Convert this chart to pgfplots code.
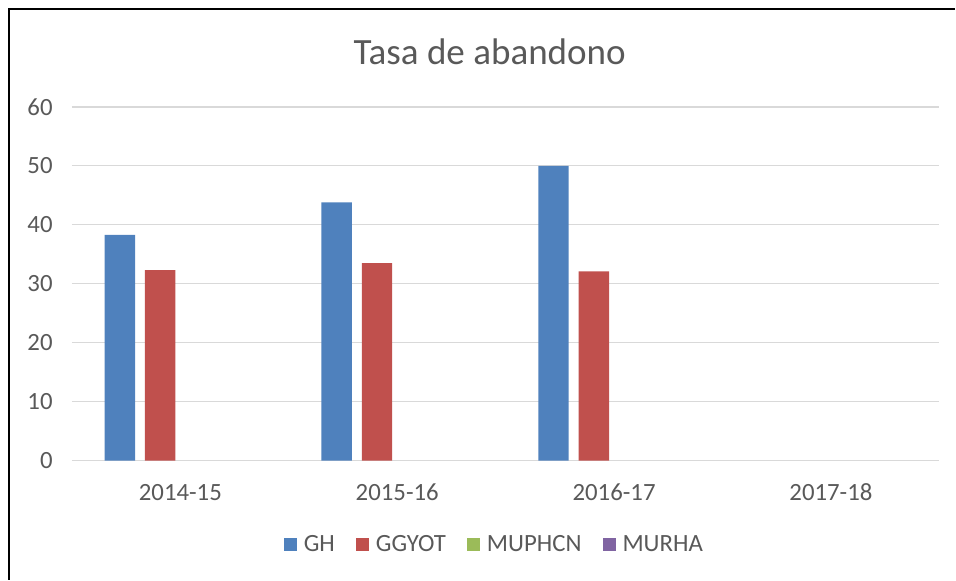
\documentclass[border=0pt]{standalone}
\usepackage{fontspec}
\setmainfont{Carlito}
\usepackage{pgfplots}
\pgfplotsset{compat=1.18}
\definecolor{cGH}{HTML}{4F81BD}
\definecolor{cGG}{HTML}{C0504D}
\definecolor{cMU}{HTML}{9BBB59}
\definecolor{cMR}{HTML}{8064A2}
\definecolor{txt}{HTML}{595959}
\definecolor{grd}{HTML}{D9D9D9}
\begin{document}
\begin{tikzpicture}
\path (0,0) rectangle (717pt,435pt);
\draw[black, line width=1pt] (6.75pt,0pt) -- (6.75pt,428.25pt) -- (717pt,428.25pt);
\node[text=txt, font=\fontsize{27.8}{32}\selectfont] at (367.5pt,396pt) {Tasa de abandono};
\begin{axis}[
  at={(54pt,89.25pt)}, anchor=south west,
  scale only axis, width=651pt, height=265.5pt,
  ybar=7.5pt, bar width=22.8pt,
  xmin=-0.5, xmax=3.5, ymin=0, ymax=60,
  ytick={0,10,...,60},
  xtick={0,1,2,3},
  xticklabels={2014-15,2015-16,2016-17,2017-18},
  major tick length=0pt,
  axis line style={draw=none},
  ymajorgrids, grid style={grd, line width=0.9pt},
  tick label style={text=txt, font=\fontsize{18.6}{21}\selectfont},
  /pgf/number format/assume math mode=true,
  yticklabel style={xshift=-11pt},
  xticklabel style={yshift=-14pt},
  legend columns=4,
  legend style={draw=none, fill=none, at={(0.4875,-0.237)}, anchor=center,
    font=\fontsize{18.6}{21}\selectfont, text=txt,
    /tikz/every odd column/.append style={column sep=3pt},
    /tikz/every even column/.append style={column sep=14pt}},
  legend image code/.code={\fill[#1] (0pt,-4.8pt) rectangle (9.8pt,5pt);},
]
\addplot[fill=cGH, draw=none] coordinates {(0,38.3) (1,43.8) (2,50.0)};
\addplot[fill=cGG, draw=none] coordinates {(0,32.3) (1,33.5) (2,32.1)};
\addplot[fill=cMU, draw=none] coordinates {(6,0)};
\addplot[fill=cMR, draw=none] coordinates {(6,0)};
\legend{GH,GGYOT,MUPHCN,MURHA}
\end{axis}
\end{tikzpicture}
\end{document}
